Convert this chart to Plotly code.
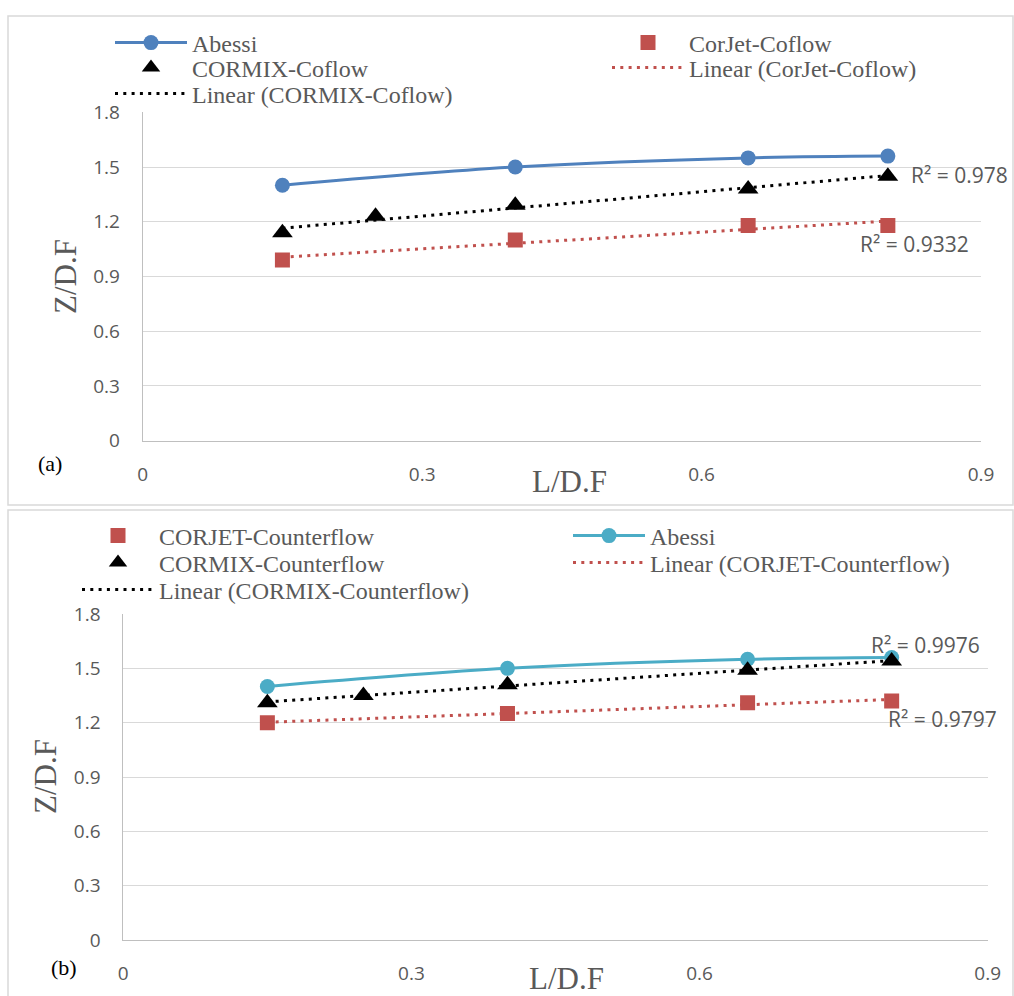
import numpy as np
import plotly.graph_objects as go

W, H = 1014, 996

# ---------------- data ----------------
ld_main = [0.15, 0.40, 0.65, 0.80]
ld_cormix = [0.15, 0.25, 0.40, 0.65, 0.80]

abessi = [1.40, 1.50, 1.55, 1.56]
corjet_coflow = [0.99, 1.10, 1.18, 1.18]
cormix_coflow = [1.14, 1.23, 1.29, 1.38, 1.45]

corjet_counter = [1.20, 1.25, 1.31, 1.32]
cormix_counter = [1.31, 1.35, 1.41, 1.49, 1.54]

r2_cormix_coflow = "R² = 0.978"
r2_corjet_coflow = "R² = 0.9332"
r2_cormix_counter = "R² = 0.9976"
r2_corjet_counter = "R² = 0.9797"

x_ticks = [0, 0.3, 0.6, 0.9]
y_ticks = [0, 0.3, 0.6, 0.9, 1.2, 1.5, 1.8]

# ---------------- styles ----------------
BLUE = "#4f81bd"
AQUA = "#4bacc6"
RED = "#c0504d"
BLACK = "#000000"
GRAY_TXT = "#595959"
GRID = "#d9d9d9"
AXIS = "#bfbfbf"
SERIF = "Liberation Serif"
SANS = "Open Sans"
DOT = "3px,5.3px"


def fx(px):
    return px / W


def fy(py):
    return 1 - py / H


def trend(xs, ys):
    a, b = np.polyfit(xs, ys, 1)
    xe = np.array([min(xs), max(xs)])
    return xe, a * xe + b


fig = go.Figure()

# ---------- top chart (a) ----------
tx, ty = trend(ld_main, corjet_coflow)
fig.add_trace(go.Scatter(x=tx, y=ty, mode="lines", name="Linear (CorJet-Coflow)",
                         line=dict(color=RED, width=3, dash=DOT),
                         legend="legend4", xaxis="x", yaxis="y"))
tx, ty = trend(ld_cormix, cormix_coflow)
fig.add_trace(go.Scatter(x=tx, y=ty, mode="lines", name="Linear (CORMIX-Coflow)",
                         line=dict(color=BLACK, width=3, dash=DOT),
                         legend="legend5", xaxis="x", yaxis="y"))
fig.add_trace(go.Scatter(x=ld_main, y=abessi, mode="lines+markers", name="Abessi",
                         line=dict(color=BLUE, width=3, shape="spline", smoothing=1),
                         marker=dict(symbol="circle", size=15, color=BLUE),
                         legend="legend", xaxis="x", yaxis="y"))
fig.add_trace(go.Scatter(x=ld_main, y=corjet_coflow, mode="markers", name="CorJet-Coflow",
                         marker=dict(symbol="square", size=15, color=RED),
                         legend="legend2", xaxis="x", yaxis="y"))
fig.add_trace(go.Scatter(x=ld_cormix, y=cormix_coflow, mode="markers", name="CORMIX-Coflow",
                         marker=dict(symbol="triangle-up", size=18, color=BLACK),
                         legend="legend3", xaxis="x", yaxis="y"))

# ---------- bottom chart (b) ----------
tx, ty = trend(ld_main, corjet_counter)
fig.add_trace(go.Scatter(x=tx, y=ty, mode="lines", name="Linear (CORJET-Counterflow)",
                         line=dict(color=RED, width=3, dash=DOT),
                         legend="legend9", xaxis="x2", yaxis="y2"))
tx, ty = trend(ld_cormix, cormix_counter)
fig.add_trace(go.Scatter(x=tx, y=ty, mode="lines", name="Linear (CORMIX-Counterflow)",
                         line=dict(color=BLACK, width=3, dash=DOT),
                         legend="legend10", xaxis="x2", yaxis="y2"))
fig.add_trace(go.Scatter(x=ld_main, y=abessi, mode="lines+markers", name="Abessi",
                         line=dict(color=AQUA, width=3, shape="spline", smoothing=1),
                         marker=dict(symbol="circle", size=15, color=AQUA),
                         legend="legend7", xaxis="x2", yaxis="y2"))
fig.add_trace(go.Scatter(x=ld_main, y=corjet_counter, mode="markers", name="CORJET-Counterflow",
                         marker=dict(symbol="square", size=15, color=RED),
                         legend="legend6", xaxis="x2", yaxis="y2"))
fig.add_trace(go.Scatter(x=ld_cormix, y=cormix_counter, mode="markers", name="CORMIX-Counterflow",
                         marker=dict(symbol="triangle-up", size=18, color=BLACK),
                         legend="legend8", xaxis="x2", yaxis="y2"))


def xaxis(domain, anchor):
    return dict(domain=domain, anchor=anchor, range=[0, 0.9], tickvals=x_ticks,
                ticktext=[f"{v:g}" for v in x_ticks], showgrid=False, zeroline=False,
                showline=True, linecolor=AXIS, linewidth=1, ticks="", ticklabelstandoff=16,
                tickfont=dict(family=SANS, size=19, color=GRAY_TXT))


def yaxis(domain, anchor):
    return dict(domain=domain, anchor=anchor, range=[0, 1.8], tickvals=y_ticks,
                ticktext=[f"{v:g}" for v in y_ticks], showgrid=True, gridcolor=GRID,
                gridwidth=1, zeroline=False, showline=True, linecolor=AXIS, linewidth=1,
                ticks="", ticklabelstandoff=18,
                tickfont=dict(family=SANS, size=19, color=GRAY_TXT))


def leg(xpx, ypx):
    return dict(orientation="v", x=fx(xpx), xanchor="left", y=fy(ypx), yanchor="middle",
                bgcolor="rgba(0,0,0,0)", borderwidth=0, itemwidth=72,
                font=dict(family=SERIF, size=24, color=GRAY_TXT))


annotations = []
# axis titles
for (x, y, t, ang) in [(65, 277, "Z/D.F", -90), (569, 481, "L/D.F", 0),
                       (45, 777, "Z/D.F", -90), (566, 978, "L/D.F", 0)]:
    annotations.append(dict(x=fx(x), y=fy(y), xref="paper", yref="paper", text=t,
                            textangle=ang, showarrow=False, xanchor="center", yanchor="middle",
                            font=dict(family=SERIF, size=31, color=GRAY_TXT)))
# panel labels
for (x, y, t) in [(50, 463, "(a)"), (64, 967, "(b)")]:
    annotations.append(dict(x=fx(x), y=fy(y), xref="paper", yref="paper", text=t,
                            showarrow=False, xanchor="center", yanchor="middle",
                            font=dict(family=SERIF, size=22, color="#000000")))
# R² labels
for (x, y, t) in [(909, 175, r2_cormix_coflow), (858, 244, r2_corjet_coflow),
                  (869, 645, r2_cormix_counter), (886, 719, r2_corjet_counter)]:
    annotations.append(dict(x=fx(x), y=fy(y), xref="paper", yref="paper", text=t,
                            showarrow=False, xanchor="left", yanchor="middle",
                            font=dict(family=SANS, size=21, color=GRAY_TXT)))

# chart frames
shapes = [
    dict(type="rect", xref="paper", yref="paper", x0=fx(8), x1=fx(1013), y0=fy(505), y1=fy(16),
         line=dict(color=GRID, width=1.5)),
    dict(type="rect", xref="paper", yref="paper", x0=fx(8), x1=fx(1013), y0=fy(1000), y1=fy(510),
         line=dict(color=GRID, width=1.5)),
]

C1T, C2T = 110, 607   # legend column x (top chart)
C1B, C2B = 77, 568    # legend column x (bottom chart)

fig.update_layout(
    width=W, height=H,
    margin=dict(l=0, r=0, t=0, b=0, autoexpand=False),
    paper_bgcolor="white", plot_bgcolor="white",
    xaxis=xaxis([fx(142.7), fx(981)], "y"),
    yaxis=yaxis([fy(440.7), fy(112.3)], "x"),
    xaxis2=xaxis([fx(123.3), fx(987.7)], "y2"),
    yaxis2=yaxis([fy(940), fy(614)], "x2"),
    legend=leg(C1T, 43),
    legend2=leg(C2T, 43),
    legend3=leg(C1T, 68),
    legend4=leg(C2T, 68),
    legend5=leg(C1T, 94),
    legend6=leg(C1B, 536),
    legend7=leg(C2B, 536),
    legend8=leg(C1B, 563),
    legend9=leg(C2B, 563),
    legend10=leg(C1B, 590),
    annotations=annotations,
    shapes=shapes,
    showlegend=True,
)

fig.write_html("out.html",
               config={"displayModeBar": False},
               post_script="document.body.style.margin='0';"
                           "document.body.style.overflow='hidden';")
